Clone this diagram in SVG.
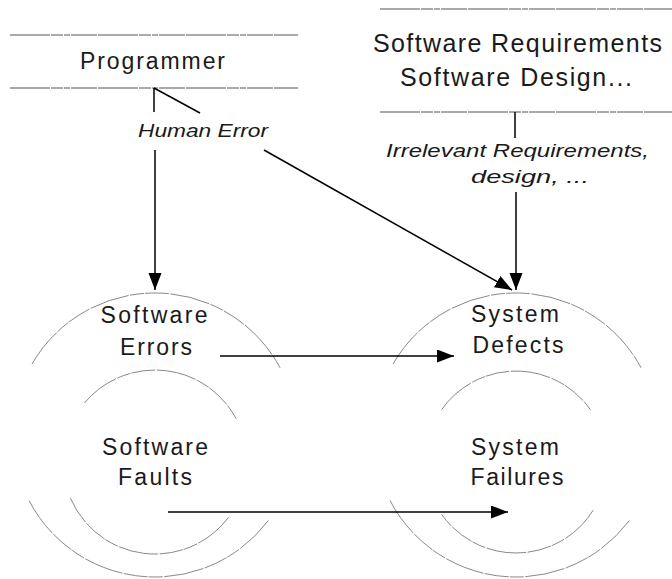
<svg xmlns="http://www.w3.org/2000/svg" width="672" height="579" viewBox="0 0 672 579">
  <defs>
    <marker id="arrow" markerUnits="userSpaceOnUse" markerWidth="18" markerHeight="14" refX="17" refY="6.5" orient="auto">
      <path d="M0,0 L17,6.5 L0,13 Z" fill="#000"/>
    </marker>
    <style>
      .rule { stroke: #555; stroke-width: 1; fill: none; stroke-dasharray: 40 1 12 1 6 1 26 1; }
      .ring { stroke: #6a6a6a; stroke-width: 0.8; fill: none; stroke-dasharray: 40 1.5 14 1 24 1.5; }
      .link { stroke: #000; stroke-width: 1.5; fill: none; }
      .lbl  { font-family: "Liberation Sans", Arial, sans-serif; font-size: 23px; fill: #1a1a1a; text-anchor: middle; }
      .big  { font-size: 25px; }
      .note { font-family: "Liberation Sans", Arial, sans-serif; font-size: 19px; font-style: italic; fill: #1a1a1a; text-anchor: middle; }
    </style>
  </defs>
  <rect width="672" height="579" fill="#fff"/>

  <!-- Programmer -->
  <g id="programmer">
    <line class="rule" x1="10" y1="35" x2="298" y2="35"/>
    <line class="rule" x1="10" y1="88" x2="298" y2="88"/>
    <text class="lbl" x="152.5" y="69" textLength="145" lengthAdjust="spacing">Programmer</text>
  </g>

  <!-- Software requirements / design -->
  <g id="requirements">
    <line class="rule" x1="380" y1="9" x2="672" y2="9"/>
    <line class="rule" x1="380" y1="112" x2="672" y2="112"/>
    <text class="lbl big" x="517.5" y="52" textLength="289" lengthAdjust="spacing">Software Requirements</text>
    <text class="lbl big" x="516" y="86" textLength="232" lengthAdjust="spacing">Software Design...</text>
  </g>

  <!-- Software errors / faults -->
  <g id="software">
    <path class="ring" d="M32,364 A142,142 0 0 1 280.4,368.4"/>
    <path class="ring" d="M268.4,520.5 A142,142 0 0 1 28.5,499.5"/>
    <path class="ring" d="M84.5,402.9 A92,92 0 0 1 236.2,418.8"/>
    <path class="ring" d="M228.5,517.4 A92,92 0 0 1 70.3,497.9"/>
    <text class="lbl" x="154" y="323" textLength="107" lengthAdjust="spacing">Software</text>
    <text class="lbl" x="156" y="355" textLength="72" lengthAdjust="spacing">Errors</text>
    <text class="lbl" x="155" y="455" textLength="106" lengthAdjust="spacing">Software</text>
    <text class="lbl" x="155" y="485" textLength="74" lengthAdjust="spacing">Faults</text>
  </g>

  <!-- System defects / failures -->
  <g id="system">
    <path class="ring" d="M393,364 A142,142 0 0 1 641.4,368.4"/>
    <path class="ring" d="M629.4,520.5 A142,142 0 0 1 389.5,499.5"/>
    <path class="ring" d="M441.5,409.8 A91,91 0 0 1 590.5,409.8"/>
    <path class="ring" d="M593.2,510.2 A91,91 0 0 1 441.5,514.2"/>
    <text class="lbl" x="515" y="322" textLength="88" lengthAdjust="spacing">System</text>
    <text class="lbl" x="518" y="353" textLength="91" lengthAdjust="spacing">Defects</text>
    <text class="lbl" x="515" y="455" textLength="88" lengthAdjust="spacing">System</text>
    <text class="lbl" x="517" y="485" textLength="93" lengthAdjust="spacing">Failures</text>
  </g>

  <!-- Connectors -->
  <g id="connectors">
    <line class="link" x1="154" y1="88" x2="154" y2="112"/>
    <line class="link" x1="154" y1="88" x2="200" y2="113"/>
    <text class="note" x="203" y="137" textLength="130" lengthAdjust="spacingAndGlyphs">Human Error</text>
    <line class="link" x1="155" y1="150" x2="155" y2="290" marker-end="url(#arrow)"/>
    <line class="link" x1="264" y1="150" x2="512" y2="290" marker-end="url(#arrow)"/>

    <line class="link" x1="515" y1="112" x2="515" y2="138"/>
    <text class="note" x="517.5" y="157" textLength="263" lengthAdjust="spacingAndGlyphs">Irrelevant Requirements,</text>
    <text class="note" x="530" y="183" textLength="118" lengthAdjust="spacingAndGlyphs">design, ...</text>
    <line class="link" x1="516" y1="192" x2="516" y2="290" marker-end="url(#arrow)"/>

    <line class="link" x1="220" y1="356" x2="454" y2="356" marker-end="url(#arrow)"/>
    <line class="link" x1="168" y1="512" x2="508" y2="512" marker-end="url(#arrow)"/>
  </g>
</svg>
